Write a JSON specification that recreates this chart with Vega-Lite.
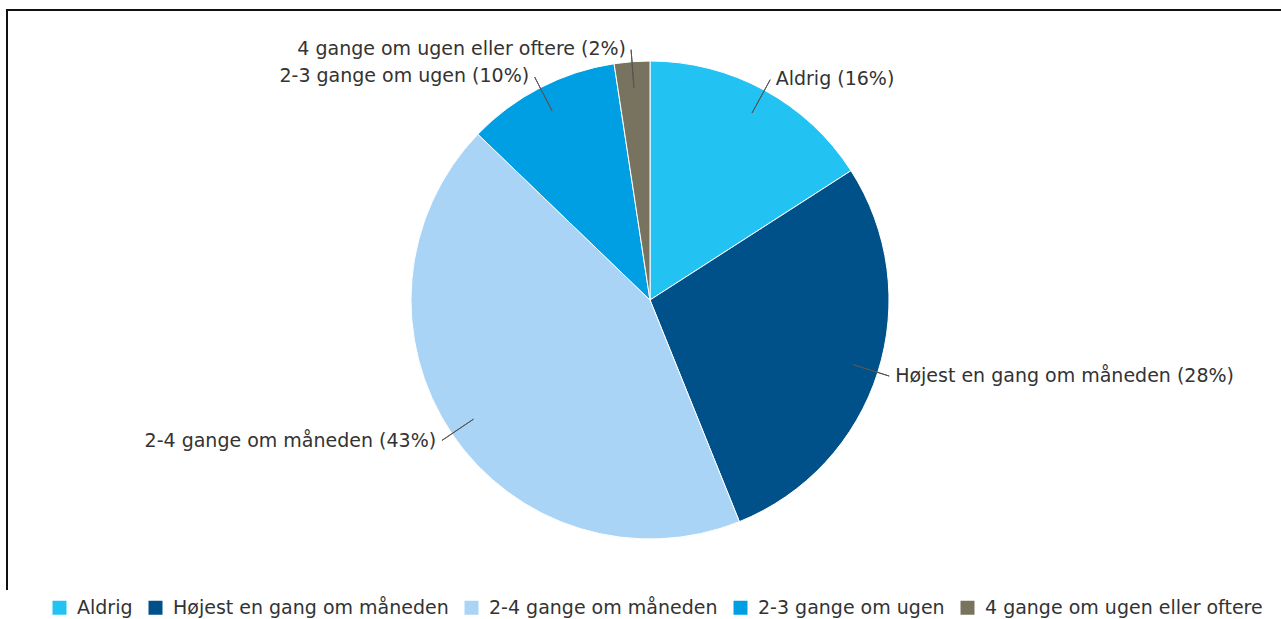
{
  "$schema": "https://vega.github.io/schema/vega-lite/v6.json",
  "width": 1286,
  "height": 580,
  "autosize": {"type": "none"},
  "padding": {"left": 7, "top": 10, "right": 0, "bottom": 29},
  "background": "white",
  "view": {"stroke": "#111111", "strokeWidth": 2, "strokeDash": [1866, 1286, 580], "fill": "white"},
  "config": {
    "font": "DejaVu Sans"
  },
  "data": {
    "values": [
      {"kategori": "Aldrig", "andel": 15.9, "ord": 1, "etiket": "Aldrig (16%)"},
      {"kategori": "Højest en gang om måneden", "andel": 28.0, "ord": 2, "etiket": "Højest en gang om måneden (28%)"},
      {"kategori": "2-4 gange om måneden", "andel": 43.3, "ord": 3, "etiket": "2-4 gange om måneden (43%)"},
      {"kategori": "2-3 gange om ugen", "andel": 10.4, "ord": 4, "etiket": "2-3 gange om ugen (10%)"},
      {"kategori": "4 gange om ugen eller oftere", "andel": 2.4, "ord": 5, "etiket": "4 gange om ugen eller oftere (2%)"}
    ]
  },
  "encoding": {
    "theta": {"field": "andel", "type": "quantitative", "stack": true},
    "order": {"field": "ord", "type": "quantitative", "sort": "ascending"}
  },
  "layer": [
    {
      "mark": {"type": "arc", "outerRadius": 239, "stroke": "white", "strokeWidth": 1},
      "encoding": {
        "color": {
          "field": "kategori",
          "type": "nominal",
          "scale": {
            "domain": ["Aldrig", "Højest en gang om måneden", "2-4 gange om måneden", "2-3 gange om ugen", "4 gange om ugen eller oftere"],
            "range": ["#22c3f3", "#00518a", "#a9d4f5", "#009fe3", "#78735f"]
          },
          "legend": {
            "title": null,
            "orient": "none",
            "legendX": 43,
            "legendY": 588,
            "direction": "horizontal",
            "symbolType": "square",
            "symbolSize": 196,
            "symbolStrokeWidth": 0,
            "labelFont": "DejaVu Sans",
            "labelFontSize": 19,
            "labelColor": "#333333",
            "labelOffset": 8,
            "columnPadding": 13,
            "labelLimit": 500
          }
        }
      }
    },
    {
      "mark": {"type": "arc", "outerRadius": 251, "innerRadius": 213, "padAngle": 3.1416, "fill": "transparent", "stroke": "#555555", "strokeWidth": 1}
    },
    {
      "mark": {"type": "text", "radius": 252, "align": "left", "baseline": "middle", "dx": 5, "fontSize": 19, "font": "DejaVu Sans", "fill": "#333333"},
      "encoding": {
        "text": {
          "condition": {"test": "datum.ord <= 2", "field": "etiket"},
          "value": ""
        }
      }
    },
    {
      "mark": {"type": "text", "radius": 252, "align": "right", "baseline": "middle", "dx": -5, "fontSize": 19, "font": "DejaVu Sans", "fill": "#333333"},
      "encoding": {
        "text": {
          "condition": {"test": "datum.ord >= 3", "field": "etiket"},
          "value": ""
        }
      }
    }
  ]
}
